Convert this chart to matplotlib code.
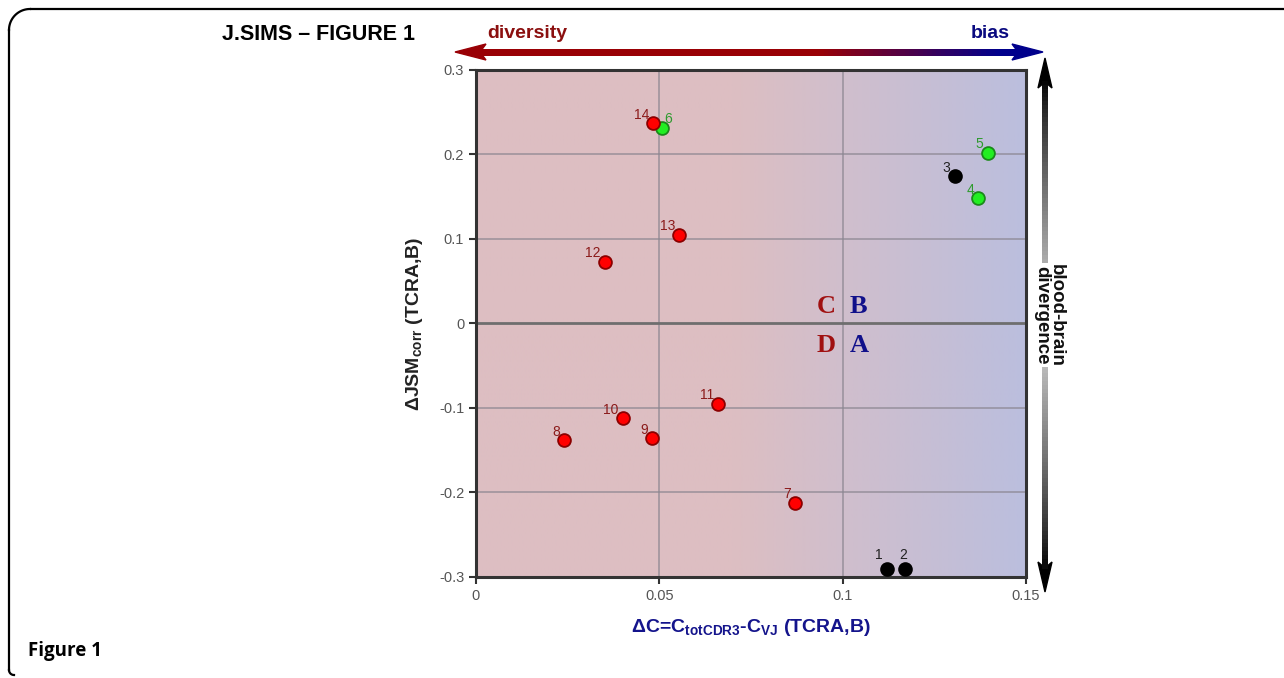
import numpy as np
import matplotlib
matplotlib.use("Agg")
import matplotlib.pyplot as plt
from matplotlib.collections import LineCollection
from matplotlib.patches import Polygon

plt.rcParams["font.family"] = ["Liberation Sans", "DejaVu Sans"]
plt.rcParams["mathtext.fontset"] = "custom"
plt.rcParams["mathtext.rm"] = "Liberation Sans"
plt.rcParams["mathtext.bf"] = "Liberation Sans:bold"

# data
ids = ["1", "2", "3", "4", "5", "6", "7", "8", "9", "10", "11", "12", "13", "14"]
dC = [0.112, 0.117, 0.1305, 0.137, 0.1395, 0.0507, 0.087, 0.024, 0.048, 0.040, 0.066, 0.0352, 0.0554, 0.0483]
dJSM = [-0.290, -0.290, 0.174, 0.148, 0.202, 0.231, -0.212, -0.138, -0.136, -0.112, -0.095, 0.073, 0.105, 0.237]
group = ["k", "k", "k", "g", "g", "g", "r", "r", "r", "r", "r", "r", "r", "r"]

face = {"r": "#ff0000", "g": "#22ee22", "k": "#000000"}
edge = {"r": "#8b0000", "g": "#1a8a1a", "k": "#000000"}
txtc = {"r": "#8b1a1a", "g": "#2e9a2e", "k": "#222222"}
# label offsets in points
offs = {"6": (2, 2), "2": (-1, 5), "1": (-6, 5)}

W, H = 1284, 678
fig = plt.figure(figsize=(W / 100, H / 100), dpi=100)

# overlay in pixel coordinates for frame and arrows
ov = fig.add_axes([0, 0, 1, 1])
ov.set_xlim(0, W)
ov.set_ylim(H, 0)
ov.axis("off")

# rounded frame (top + left only)
ov.plot([30, W], [9, 9], color="black", lw=1.6, solid_capstyle="butt")
ov.plot([9, 9], [30, 670], color="black", lw=1.6)
t = np.linspace(np.pi, 1.5 * np.pi, 30)
ov.plot(30 + 21 * np.cos(t), 30 + 21 * np.sin(t), color="black", lw=1.6)
t2 = np.linspace(0.5 * np.pi, np.pi, 20)
ov.plot(14 + 5 * np.cos(t2), 670 + 5 * np.sin(t2), color="black", lw=1.6)

ov.text(222, 34, "J.SIMS \u2013 FIGURE 1", fontsize=15.5, fontweight="bold",
        va="center", ha="left")
ov.text(28, 651, "Figure 1", fontsize=13.5, fontweight="bold", va="center", ha="left",
        family="Open Sans")

# horizontal gradient arrow
red = np.array([0.6, 0.0, 0.02])
blue = np.array([0.0, 0.0, 0.55])
xs = np.linspace(480, 1016, 120)
segs = [[(xs[i], 52), (xs[i + 1], 52)] for i in range(len(xs) - 1)]
fr = np.clip((xs[:-1] - 820) / (1000 - 820), 0, 1)
cols = [tuple(red * (1 - f) + blue * f) for f in fr]
ov.add_collection(LineCollection(segs, colors=cols, linewidths=5, capstyle="projecting",
                                 antialiaseds=False))
ov.add_patch(Polygon([(455, 52), (486, 44), (480, 52), (486, 60)], closed=True, color=tuple(red)))
ov.add_patch(Polygon([(1043, 52), (1012, 44), (1018, 52), (1012, 60)], closed=True, color=tuple(blue)))
ov.text(487, 33, "diversity", color="#8b0f0f", fontsize=14, fontweight="bold", va="center", ha="left")
ov.text(1010, 33, "bias", color="#0a0a80", fontsize=14, fontweight="bold", va="center", ha="right")

# vertical gradient arrow
ys = np.linspace(84, 566, 120)
vsegs = [[(1045, ys[i]), (1045, ys[i + 1])] for i in range(len(ys) - 1)]
g = 1 - np.abs((ys[:-1] - 325) / 243)
vcols = [(0.85 * v, 0.85 * v, 0.85 * v) for v in np.clip(g, 0, 1) ** 0.8]
ov.add_collection(LineCollection(vsegs, colors=vcols, linewidths=4, capstyle="projecting",
                                 antialiaseds=False))
ov.add_patch(Polygon([(1045, 58), (1038, 88), (1045, 82), (1052, 88)], closed=True, color="black"))
ov.add_patch(Polygon([(1045, 592), (1038, 562), (1045, 568), (1052, 562)], closed=True, color="black"))
ov.text(1049, 315, "blood-brain\ndivergence", rotation=270, fontsize=13.5, fontweight="bold",
        va="center", ha="center", linespacing=0.85, color="#111111",
        bbox=dict(facecolor="white", edgecolor="none", pad=0.5))

# main axes
ax = fig.add_axes([476 / W, 1 - 577 / H, 550 / W, 507 / H])
ax.set_xlim(0, 0.15)
ax.set_ylim(-0.3, 0.3)

pink = np.array([221, 190, 194]) / 255
lav = np.array([187, 190, 222]) / 255
gx = np.linspace(0, 0.15, 400)
fx = np.clip((gx - 0.07) / 0.08, 0, 1)
grad = (pink[None, :] * (1 - fx[:, None]) + lav[None, :] * fx[:, None])[None, :, :]
ax.imshow(grad, extent=[0, 0.15, -0.3, 0.3], aspect="auto", zorder=0)

for xv in [0.05, 0.1]:
    ax.axvline(xv, color="#8a8690", lw=1.2, alpha=0.75, zorder=1)
for yv in [-0.2, -0.1, 0.1, 0.2]:
    ax.axhline(yv, color="#8a8690", lw=1.2, alpha=0.75, zorder=1)
ax.axhline(0, color="#6e6e6e", lw=2, zorder=1)

for s in ax.spines.values():
    s.set_linewidth(2.2)
    s.set_color("#333333")

ax.set_xticks([0, 0.05, 0.1, 0.15])
ax.set_xticklabels(["0", "0.05", "0.1", "0.15"])
ax.set_yticks([-0.3, -0.2, -0.1, 0, 0.1, 0.2, 0.3])
ax.set_yticklabels(["-0.3", "-0.2", "-0.1", "0", "0.1", "0.2", "0.3"])
ax.tick_params(direction="out", length=5, width=1.5, color="#333333",
               labelcolor="#555555", labelsize=10.5)

for i in range(len(ids)):
    gr = group[i]
    ax.scatter(dC[i], dJSM[i], s=85, facecolor=face[gr], edgecolor=edge[gr],
               linewidth=1.3, zorder=3, clip_on=False)
    dx, dy = offs.get(ids[i], (-3, 1))
    ax.annotate(ids[i], (dC[i], dJSM[i]), xytext=(dx, dy), textcoords="offset points",
                ha="center" if ids[i] in ("1", "2") else ("left" if dx > 0 else "right"),
                va="bottom", fontsize=10, color=txtc[gr], zorder=4)

ax.text(0.098, 0.006, "C", color="#a01010", fontsize=19, fontweight="bold",
        family="Liberation Serif", ha="right", va="bottom")
ax.text(0.102, 0.006, "B", color="#10108a", fontsize=19, fontweight="bold",
        family="Liberation Serif", ha="left", va="bottom")
ax.text(0.098, -0.012, "D", color="#a01010", fontsize=19, fontweight="bold",
        family="Liberation Serif", ha="right", va="top")
ax.text(0.102, -0.012, "A", color="#10108a", fontsize=19, fontweight="bold",
        family="Liberation Serif", ha="left", va="top")

ax.set_xlabel("\u0394C=C$_{\\mathbf{totCDR3}}$-C$_{\\mathbf{VJ}}$ (TCRA,B)", color="#14148c",
              fontsize=14, fontweight="bold", labelpad=10)
ax.set_ylabel("\u0394JSM$_{\\mathbf{corr}}$ (TCRA,B)", color="#222222",
              fontsize=14, fontweight="bold", labelpad=10)

fig.savefig("out.png", dpi=100)
